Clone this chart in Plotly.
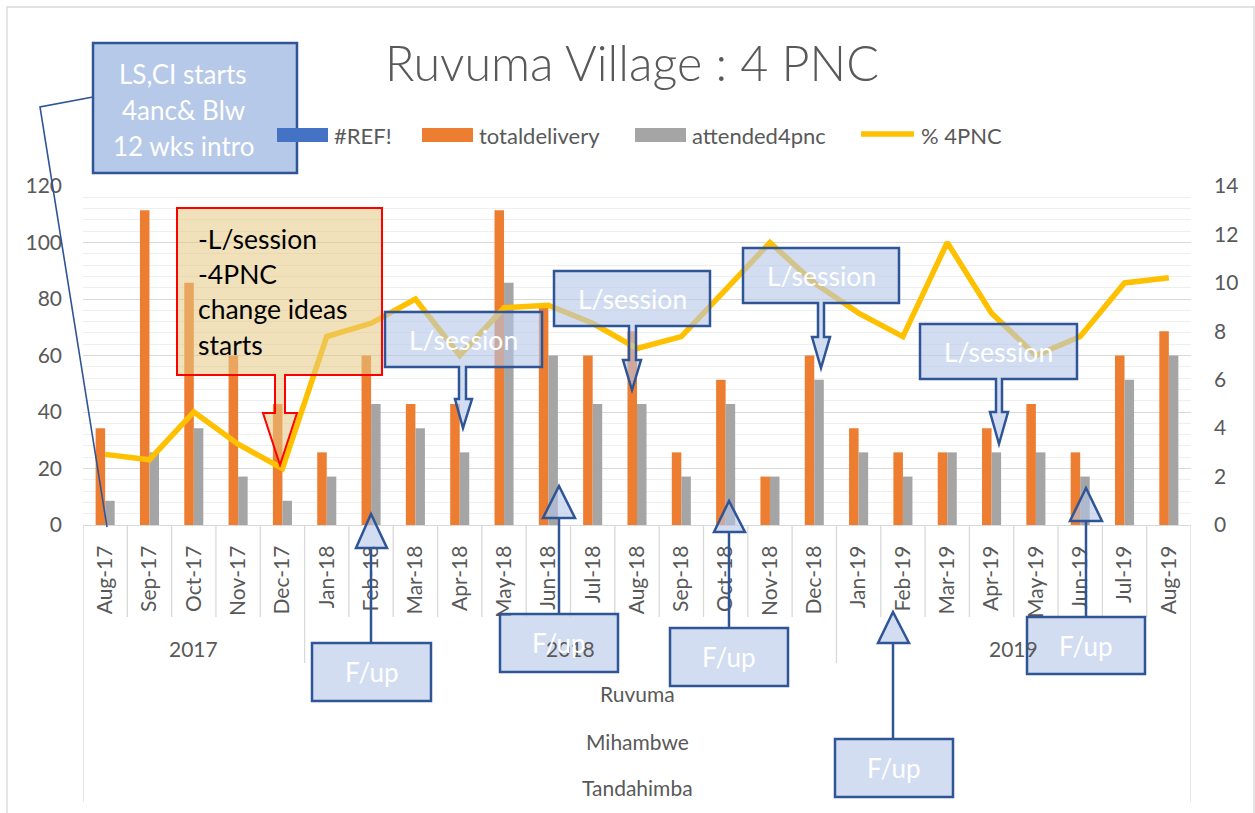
import plotly.graph_objects as go

# ---------------- data ----------------
months = ["Aug-17", "Sep-17", "Oct-17", "Nov-17", "Dec-17", "Jan-18", "Feb-18", "Mar-18",
          "Apr-18", "May-18", "Jun-18", "Jul-18", "Aug-18", "Sep-18", "Oct-18", "Nov-18",
          "Dec-18", "Jan-19", "Feb-19", "Mar-19", "Apr-19", "May-19", "Jun-19", "Jul-19", "Aug-19"]
total_delivery = [4, 13, 10, 7, 5, 3, 7, 5, 5, 13, 9, 7, 8, 3, 6, 2, 7, 4, 3, 3, 4, 5, 3, 7, 8]
attended_4pnc = [1, 3, 4, 2, 1, 2, 5, 4, 3, 10, 7, 5, 5, 2, 5, 2, 6, 3, 2, 3, 3, 3, 2, 6, 7]
pct_4pnc = [25, 23.1, 40, 28.6, 20, 66.7, 71.4, 80, 60, 76.9, 77.8, 71.4, 62.5, 66.7, 83.3,
            100, 85.7, 75, 66.7, 100, 75, 60, 66.7, 85.7, 87.5]
years = ["2017", "2018", "2019"]
year_first = ["Aug-17", "Jan-18", "Jan-19"]
year_last = ["Dec-17", "Dec-18", "Aug-19"]
region_levels = ["Ruvuma", "Mihambwe", "Tandahimba"]
legend_names = ["#REF!", "totaldelivery", "attended4pnc", "% 4PNC"]
ls_note = ["LS,CI starts", "4anc& Blw", "12 wks intro"]
red_note = ["-L/session", "-4PNC", "change ideas", "starts"]

# ---------------- geometry helpers (pixel -> paper) ----------------
W, H = 1255, 813
PL, PR, PT, PB = 83, 1191, 186, 525
FONT = "Lato"
GREY_TXT = "#595959"
BLUE_LINE = "#2F5597"


def px(x):
    return (x - PL) / (PR - PL)


def py(y):
    return (PB - y) / (PB - PT)


def path_str(pts, close=True):
    s = "M " + " L ".join(f"{px(x):.5f},{py(y):.5f}" for x, y in pts)
    return s + (" Z" if close else "")


shapes = []
annotations = []


def add_path(pts, fill="rgba(0,0,0,0)", color=BLUE_LINE, width=2.5, close=True, layer="above"):
    shapes.append(dict(type="path", xref="paper", yref="paper", path=path_str(pts, close),
                       fillcolor=fill, line=dict(color=color, width=width), layer=layer))


def add_text(x, y, text, size, color, xanchor="center", align="center"):
    annotations.append(dict(xref="paper", yref="paper", x=px(x), y=py(y), text=text,
                            showarrow=False, xanchor=xanchor, yanchor="middle", align=align,
                            font=dict(family=FONT, size=size, color=color)))


# outer chart border
shapes.append(dict(type="rect", xref="paper", yref="paper", x0=px(7), x1=px(1254), y0=py(840), y1=py(7),
                   line=dict(color="#D9D9D9", width=1.3), fillcolor="rgba(0,0,0,0)", layer="below"))

# category axis separators (multi-level axis)
n = len(months)
for k in range(n + 1):
    bottom = 802 if k in (0, n) else 617
    shapes.append(dict(type="line", xref="x", yref="paper", x0=k - 0.5, x1=k - 0.5, y0=py(525), y1=py(bottom),
                       line=dict(color="#D9D9D9", width=1.3), layer="below"))
for first in year_first[1:]:
    k = months.index(first)
    shapes.append(dict(type="line", xref="x", yref="paper", x0=k - 0.5, x1=k - 0.5, y0=py(617), y1=py(663),
                       line=dict(color="#D9D9D9", width=1.3), layer="below"))

# year labels
for yname, a, b in zip(years, year_first, year_last):
    c = (months.index(a) + months.index(b)) / 2
    annotations.append(dict(xref="x", yref="paper", x=c, y=py(648), text=yname, showarrow=False,
                            xanchor="center", yanchor="middle",
                            font=dict(family=FONT, size=21, color=GREY_TXT)))
# region levels
for name, yy in zip(region_levels, [693, 741, 787]):
    add_text((PL + PR) / 2, yy, name, 21, GREY_TXT)

# ---------------- LS,CI callout + legend ----------------
add_path([(93, 43), (297, 43), (297, 173), (93, 173)], fill="rgba(180,199,231,0.97)", width=2.5)
add_path([(93, 97), (40, 107), (107, 527)], color=BLUE_LINE, width=1.6, close=False)
for line_txt, yy in zip(ls_note, [74, 110, 146]):
    add_text(183, yy, line_txt, 26, "white")

leg_colors = ["#4472C4", "#ED7D31", "#A5A5A5"]
leg_x = [277, 422, 635]
for name, col, x0 in zip(legend_names[:3], leg_colors, leg_x):
    shapes.append(dict(type="rect", xref="paper", yref="paper", x0=px(x0), x1=px(x0 + 51), y0=py(142), y1=py(128),
                       fillcolor=col, line=dict(width=0), layer="above"))
    add_text(x0 + 55, 135, name, 22, GREY_TXT, xanchor="left")
shapes.append(dict(type="line", xref="paper", yref="paper", x0=px(861), x1=px(914), y0=py(134), y1=py(134),
                   line=dict(color="#FFC000", width=5.5), layer="above"))
add_text(919, 135, legend_names[3], 22, GREY_TXT, xanchor="left")

# ---------------- callouts ----------------
# red box with down arrow
add_path([(177, 208), (382, 208), (382, 375), (285, 375), (285, 413), (297, 413), (280, 465),
          (263, 413), (275, 413), (275, 375), (177, 375)],
         fill="rgba(230,200,132,0.55)", color="#FF0000", width=2)
for line_txt, yy in zip(red_note, [239, 274, 309, 345]):
    add_text(196, yy, line_txt, 26.5, "black", xanchor="left", align="left")

BOX_FILL = "rgba(180,199,231,0.6)"


def down_callout(x0, y0, x1, y1, s0, s1, neck, h0, h1, tx, ty):
    add_path([(x0, y0), (x1, y0), (x1, y1), (s1, y1), (s1, neck), (h1, neck), (tx, ty),
              (h0, neck), (s0, neck), (s0, y1), (x0, y1)], fill=BOX_FILL, width=2.5)
    add_text((x0 + x1) / 2, (y0 + y1) / 2, "L/session", 26.5, "white")


down_callout(385, 312, 542, 367, 459, 466, 399, 455, 472, 463, 428)
down_callout(554, 271, 710, 326, 629, 636, 360, 623, 641, 632, 390)
down_callout(743, 248, 899, 303, 818, 824, 337, 812, 830, 821, 368)
down_callout(920, 324, 1077, 379, 996, 1002, 412, 990, 1008, 999, 444)


def up_callout(x0, y0, x1, y1, sx, base, t0, t1, tip):
    add_path([(x0, y0), (x1, y0), (x1, y1), (x0, y1)], fill=BOX_FILL, width=2.5)
    add_path([(sx, y0), (sx, base)], width=2.5, close=False)
    add_path([(t0, base), (t1, base), (sx, tip)], fill=BOX_FILL, width=2.5)
    add_text((x0 + x1) / 2, (y0 + y1) / 2, "F/up", 26, "white")


up_callout(312, 643, 431, 701, 371, 548, 356, 387, 514)
up_callout(500, 614, 618, 672, 559, 518, 543, 575, 486)
up_callout(670, 628, 788, 686, 729, 532, 714, 745, 501)
up_callout(835, 739, 953, 797, 893, 643, 878, 909, 612)
up_callout(1027, 617, 1145, 674, 1086, 521, 1070, 1102, 488)

# title
annotations.append(dict(xref="paper", yref="paper", x=px(632), y=py(62), text="Ruvuma Village : 4 PNC",
                        showarrow=False, xanchor="center", yanchor="middle",
                        font=dict(family=FONT, size=48.5, color=GREY_TXT, weight=300)))

# ---------------- traces ----------------
fig = go.Figure()
fig.add_trace(go.Bar(x=months, y=total_delivery, name=legend_names[1], marker=dict(color="#ED7D31", line=dict(width=0)),
                     yaxis="y", showlegend=False))
fig.add_trace(go.Bar(x=months, y=attended_4pnc, name=legend_names[2], marker=dict(color="#A5A5A5", line=dict(width=0)),
                     yaxis="y", showlegend=False))
fig.add_trace(go.Scatter(x=months, y=pct_4pnc, name=legend_names[3], mode="lines", yaxis="y2",
                         line=dict(color="#FFC000", width=5.5), showlegend=False))

fig.update_layout(
    width=W, height=H,
    margin=dict(l=PL, r=W - PR, t=PT, b=H - PB, pad=0),
    paper_bgcolor="white", plot_bgcolor="white",
    barmode="group", bargap=0.57, bargroupgap=0,
    font=dict(family=FONT, color=GREY_TXT),
    xaxis=dict(type="category", categoryorder="array", categoryarray=months, range=[-0.5, n - 0.5],
               tickangle=-90, tickfont=dict(family=FONT, size=21, color=GREY_TXT), ticks="",
               ticklabelstandoff=11, showline=True, linecolor="#D9D9D9", linewidth=1.3, showgrid=False),
    yaxis=dict(side="right", range=[0, 14], dtick=2, showgrid=False, zeroline=False, showline=False,
               tickfont=dict(family=FONT, size=21, color=GREY_TXT), ticklabelstandoff=22),
    yaxis2=dict(side="left", overlaying="y", range=[0, 120], dtick=20, showgrid=True, gridcolor="#D9D9D9",
                gridwidth=1.3, zeroline=False, showline=False,
                minor=dict(dtick=4, showgrid=True, gridcolor="#EFEFEF", gridwidth=1.3),
                tickfont=dict(family=FONT, size=21, color=GREY_TXT), ticklabelstandoff=20),
    shapes=shapes,
    annotations=annotations,
)

fig.write_html("out.html", config={"displayModeBar": False},
               post_script="document.body.style.margin='0';document.body.style.overflow='hidden';")
